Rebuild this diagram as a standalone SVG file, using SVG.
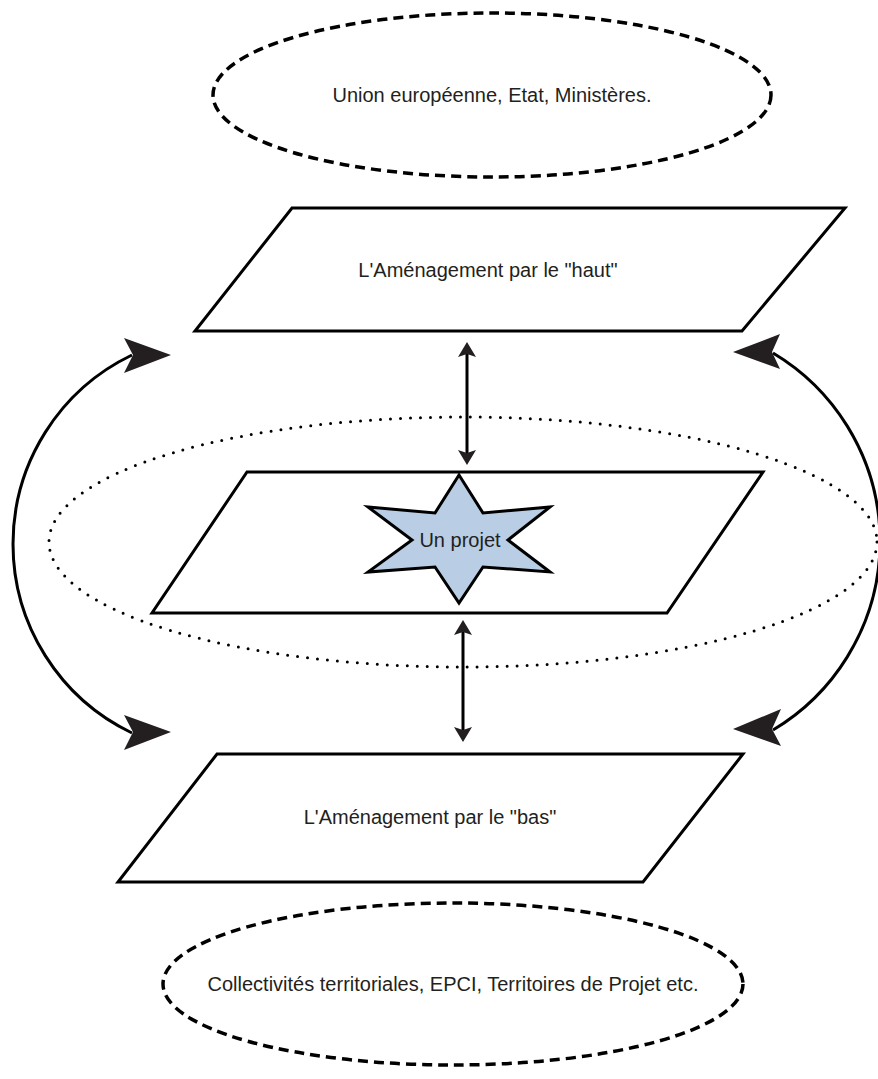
<svg xmlns="http://www.w3.org/2000/svg" width="878" height="1079" viewBox="0 0 878 1079">
<style>
.lbl{font-family:"Liberation Sans","Noto Sans",sans-serif;font-size:20px;fill:#231f20;text-anchor:middle}
.dash{fill:none;stroke:#000;stroke-width:3.5;stroke-dasharray:10 6}
.dot{fill:none;stroke:#000;stroke-width:3;stroke-dasharray:0 10;stroke-linecap:round}
.plane{fill:#fff;stroke:#000;stroke-width:3;stroke-linejoin:miter}
.curve{fill:none;stroke:#000;stroke-width:3}
.head{fill:#231f20;stroke:none}
.vline{stroke:#000;stroke-width:3}
</style>
<rect width="878" height="1079" fill="#fff"/>
<g id="level-top">
<ellipse class="dash" cx="492" cy="95" rx="279" ry="82"/>
<text class="lbl" x="492" y="102">Union européenne, Etat, Ministères.</text>
</g>
<g id="level-bottom">
<ellipse class="dash" cx="453" cy="984" rx="290" ry="81"/>
<text class="lbl" x="453" y="991">Collectivités territoriales, EPCI, Territoires de Projet etc.</text>
</g>
<g id="project-zone">
<ellipse class="dot" cx="463" cy="542" rx="414" ry="125"/>
</g>
<g id="plane-haut">
<polygon class="plane" points="292,208 845,208 742,331 195,331"/>
<text class="lbl" x="488" y="277">L'Aménagement par le "haut"</text>
</g>
<g id="plane-projet">
<polygon class="plane" points="247,472 763,472 667,613 152,613"/>
</g>
<g id="projet">
<polygon points="459,475 483,513 550,507 508,540 550,572 483,567 459,603 435,567 368,572 412,540 368,507 435,513" fill="#b9cde5" stroke="#000" stroke-width="3" stroke-linejoin="miter"/>
<text class="lbl" x="460" y="547">Un projet</text>
</g>
<g id="plane-bas">
<polygon class="plane" points="217,754 743,754 643,882 118,882"/>
<text class="lbl" x="430" y="824">L'Aménagement par le "bas"</text>
</g>
<g id="connectors">
<line class="vline" x1="467" y1="352" x2="467" y2="455"/>
<polygon class="head" points="467,342 476,357 467,354 458,357"/>
<polygon class="head" points="467,465 476,450 467,453 458,450"/>
<line class="vline" x1="463" y1="630" x2="463" y2="732"/>
<polygon class="head" points="463,620 472,635 463,632 454,635"/>
<polygon class="head" points="463,742 472,727 463,730 454,727"/>
<path class="curve" d="M132,355 A209.6,209.6 0 0 0 132,733"/>
<polygon class="head" points="171,355 124,338 133,355 124,373"/>
<polygon class="head" points="171,732 124,715 133,732 124,750"/>
<path class="curve" d="M773,353 A219.5,219.5 0 0 1 773,730"/>
<polygon class="head" points="733,352 780,334 772,352 780,369"/>
<polygon class="head" points="733,729 781,709 772,729 781,746"/>
</g>
</svg>
